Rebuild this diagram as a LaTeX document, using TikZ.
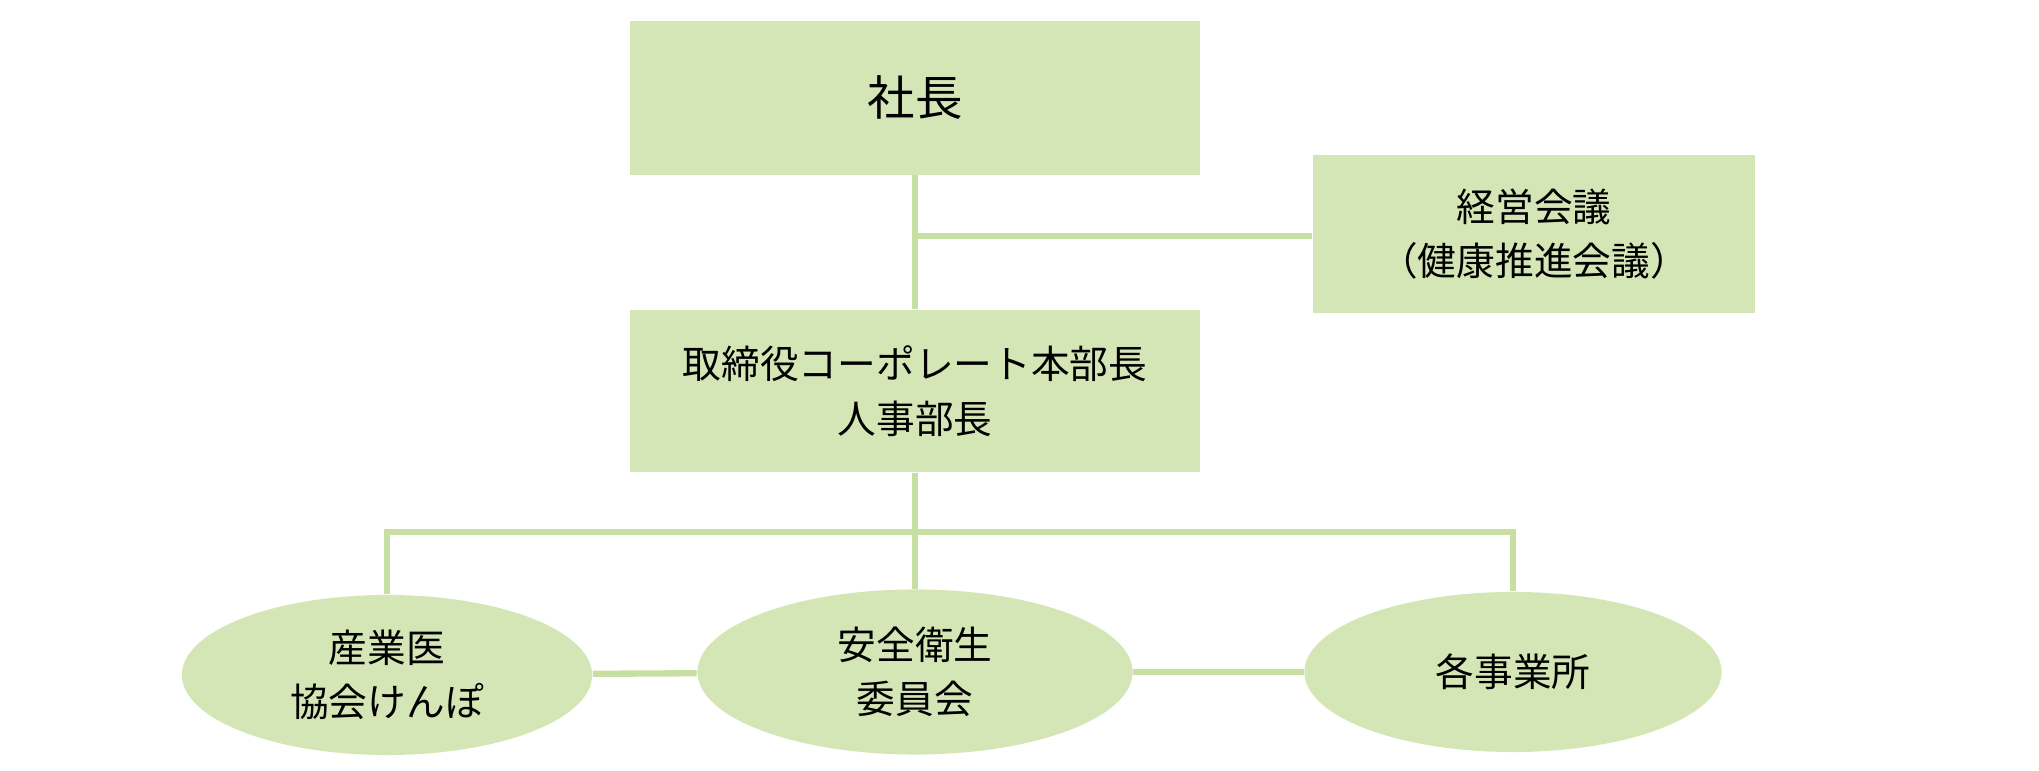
\documentclass[tikz,border=0pt]{standalone}
\usepackage{fontspec}
\setmainfont{Noto Sans CJK JP}
\usetikzlibrary{positioning, calc, shapes.geometric}
\definecolor{leaf}{HTML}{D5E6B6}
\definecolor{stem}{HTML}{C8DFA4}
\tikzset{box/.style={rectangle, fill=leaf, draw=none, text centered, align=center, font=\fontsize{11}{15.5}\selectfont},
         oval/.style={ellipse, fill=leaf, draw=none, text centered, align=center, inner sep=0pt, font=\fontsize{11}{15.5}\selectfont},
         link/.style={draw=stem, line width=1.8pt}}

\begin{document}
\begin{tikzpicture}[x=0.01cm, y=-0.01cm]
        \useasboundingbox (0,0) rectangle (2039,771);
        \node (ceo)[box, minimum width=5.7cm, minimum height=1.53cm, font=\fontsize{13.5}{15}\selectfont] at (915,98){社長};
        \node (board)[box, minimum width=4.42cm, minimum height=1.58cm] at (1534,234){経営会議\\（健康推進会議）};
        \node (hr)[box, minimum width=5.7cm, minimum height=1.62cm] at (915,391){取締役コーポレート本部長\\人事部長};
        \node (doc)[oval, minimum width=4.1cm, minimum height=1.6cm] at (387,675){産業医\\協会けんぽ};
        \node (safe)[oval, minimum width=4.35cm, minimum height=1.65cm] at (915,672){安全衛生\\委員会};
        \node (site)[oval, minimum width=4.17cm, minimum height=1.6cm] at (1513,672){各事業所};
        \coordinate (mid) at (915,236);
        \coordinate (fork) at (915,532);
        \draw [link] (ceo) -- (hr);
        \draw [link] (mid) -- (mid -| board.west);
        \draw [link] (hr) -- (fork) -- (safe);
        \draw [link] (doc.north) |- (fork) -| (site.north);
        \draw [link] (doc) -- (safe);
        \draw [link] (safe) -- (site);
    \end{tikzpicture}
\end{document}
